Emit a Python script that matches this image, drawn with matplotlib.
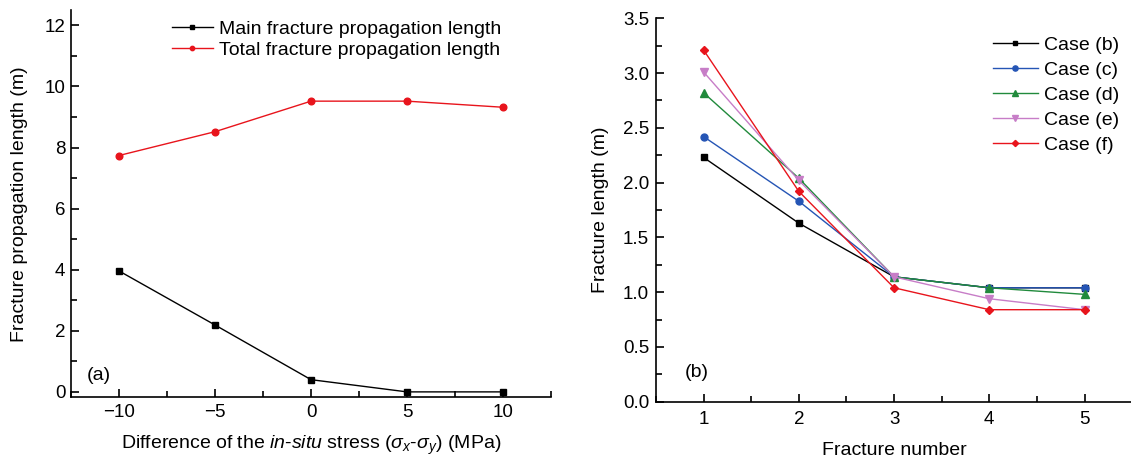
import numpy as np
import matplotlib
matplotlib.use('Agg')
import matplotlib.pyplot as plt
from matplotlib.ticker import MultipleLocator, FormatStrFormatter

plt.rcParams['font.family'] = ['Liberation Sans', 'DejaVu Sans']
plt.rcParams['mathtext.fontset'] = 'custom'
plt.rcParams['mathtext.rm'] = 'Liberation Sans'
plt.rcParams['mathtext.it'] = 'Liberation Sans:italic'
plt.rcParams['font.size'] = 14

# panel (a)
stress_diff = [-10, -5, 0, 5, 10]
main_len = [3.96, 2.19, 0.40, 0.0, 0.0]
total_len = [7.74, 8.52, 9.52, 9.52, 9.32]

# panel (b)
frac_num = [1, 2, 3, 4, 5]
case_b = [2.23, 1.63, 1.14, 1.04, 1.04]
case_c = [2.42, 1.83, 1.14, 1.04, 1.04]
case_d = [2.82, 2.04, 1.14, 1.04, 0.98]
case_e = [3.01, 2.02, 1.14, 0.94, 0.84]
case_f = [3.21, 1.92, 1.04, 0.84, 0.84]
case_labels = ['Case (b)', 'Case (c)', 'Case (d)', 'Case (e)', 'Case (f)']

fig = plt.figure(figsize=(11.31, 4.61), dpi=100)

def style_axes(ax, xpad, ypad):
    for s in ['top', 'right']:
        ax.spines[s].set_visible(False)
    for s in ['left', 'bottom']:
        ax.spines[s].set_linewidth(1.2)
    ax.tick_params(which='both', direction='in', width=1.2, labelsize=13.5)
    ax.tick_params(which='major', length=6)
    ax.tick_params(which='minor', length=4)
    ax.tick_params(axis='x', which='major', pad=xpad)
    ax.tick_params(axis='y', which='major', pad=ypad)

# ---- left panel
ax1 = fig.add_axes([0.0628, 0.138, 0.4244, 0.840])
ax1.plot(stress_diff, main_len, color='black', marker='s', ms=4.5, lw=1.0,
         label='Main fracture propagation length')
ax1.plot(stress_diff, total_len, color='#e8141c', marker='o', ms=4.8, lw=1.0,
         label='Total fracture propagation length')
ax1.set_xlim(-12.5, 12.5)
ax1.set_ylim(-0.18, 12.5)
ax1.xaxis.set_major_locator(MultipleLocator(5))
ax1.xaxis.set_minor_locator(MultipleLocator(2.5))
ax1.yaxis.set_major_locator(MultipleLocator(2))
ax1.yaxis.set_minor_locator(MultipleLocator(1))
style_axes(ax1, 5, 4)
ax1.set_xlabel(r'Difference of the $\it{in}$-$\it{situ}$ stress ($\sigma_x$-$\sigma_y$) (MPa)',
               labelpad=9)
ax1.set_ylabel('Fracture propagation length (m)', labelpad=12)
ax1.text(-11.67, 0.55, '(a)', fontsize=14, va='center')
ax1.legend(loc='upper left', bbox_to_anchor=(172 / 1131, 1 - 20 / 461),
           bbox_transform=fig.transFigure, frameon=False, borderpad=0, borderaxespad=0,
           handlelength=2.1, handletextpad=0.3, labelspacing=0.2, markerscale=0.65,
           fontsize=14)

# ---- right panel
ax2 = fig.add_axes([0.580, 0.1286, 0.421, 0.8317])
colors = ['black', '#2555b5', '#218a3c', '#c77dc7', '#e8141c']
markers = ['s', 'o', '^', 'v', 'D']
sizes = [4.5, 5, 5.5, 5.5, 4.2]
for ys, c, m, ms, lab in zip([case_b, case_c, case_d, case_e, case_f], colors, markers, sizes, case_labels):
    ax2.plot(frac_num, ys, color=c, marker=m, ms=ms, lw=1.0, label=lab)
ax2.set_xlim(0.5, 5.5)
ax2.set_ylim(0, 3.5)
ax2.xaxis.set_major_locator(MultipleLocator(1))
ax2.xaxis.set_minor_locator(MultipleLocator(0.5))
ax2.yaxis.set_major_locator(MultipleLocator(0.5))
ax2.yaxis.set_minor_locator(MultipleLocator(0.25))
ax2.yaxis.set_major_formatter(FormatStrFormatter('%.1f'))
style_axes(ax2, 7, 5)
ax2.set_xlabel('Fracture number', labelpad=10)
ax2.set_ylabel('Fracture length (m)', labelpad=10)
ax2.text(0.80, 0.27, '(b)', fontsize=14, va='center')
ax2.legend(loc='upper left', bbox_to_anchor=(993 / 1131, 1 - 36 / 461),
           bbox_transform=fig.transFigure, frameon=False, borderpad=0, borderaxespad=0,
           handlelength=2.3, handletextpad=0.3, labelspacing=0.38, markerscale=0.75,
           fontsize=14)

fig.savefig('out.png', dpi=100)
